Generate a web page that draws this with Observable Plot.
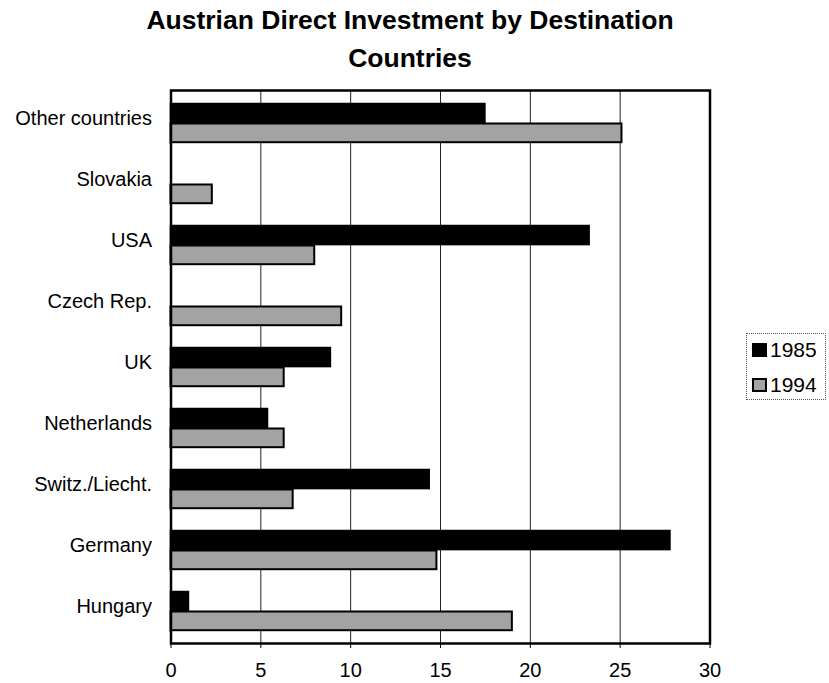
<!DOCTYPE html>
<html>
<head>
<meta charset="utf-8">
<script src="https://cdn.jsdelivr.net/npm/d3@7"></script>
<script src="https://cdn.jsdelivr.net/npm/@observablehq/plot@0.6"></script>
<style>
  body { margin: 0; background: #fff; font-family: "Liberation Sans", Arial, sans-serif; }
  #wrap { position: relative; width: 829px; height: 683px; overflow: hidden; }
  #title { position: absolute; left: 0; top: 1px; width: 820px; text-align: center;
           font-weight: bold; font-size: 26.5px; line-height: 38px; color: #000; }
  #chart { position: absolute; left: 0; top: 80px; }
  #legend { position: absolute; left: 746px; top: 333px; width: 80px; height: 67px;
            border: 1px dotted #555; box-sizing: border-box; font-size: 21px; color: #000; }
  .item { position: absolute; left: 5px; height: 20px; display: flex; align-items: center; }
  .sw { width: 15px; height: 14px; box-sizing: border-box; border: 2px solid #000; margin-right: 3px; }
</style>
</head>
<body>
<div id="wrap">
  <div id="title">Austrian Direct Investment by Destination<br>Countries</div>
  <div id="chart"></div>
  <div id="legend"></div>
</div>
<script>
const countries = ["Other countries", "Slovakia", "USA", "Czech Rep.", "UK", "Netherlands", "Switz./Liecht.", "Germany", "Hungary"];
const values1985 = [17.5, null, 23.3, null, 8.9, 5.4, 14.4, 27.8, 1.0];
const values1994 = [25.1, 2.3, 8.0, 9.5, 6.3, 6.3, 6.8, 14.8, 19.0];
const years = ["1985", "1994"];
const xTicks = [0, 5, 10, 15, 20, 25, 30];
const gridValues = [5, 10, 15, 20, 25];
const colors = {"1985": "#000000", "1994": "#a3a3a3"};

const d1985 = countries.map((c, i) => ({country: c, value: values1985[i]})).filter(d => d.value != null);
const d1994 = countries.map((c, i) => ({country: c, value: values1994[i]})).filter(d => d.value != null);

const chart = Plot.plot({
  width: 829,
  height: 603,
  marginTop: 10,
  marginBottom: 40,
  marginLeft: 170.5,
  marginRight: 119.5,
  style: {fontFamily: "'Liberation Sans', Arial, sans-serif", background: "#fff", color: "#000", fontSize: "20px"},
  x: {domain: [0, 30]},
  y: {domain: countries, padding: 0},
  marks: [
    Plot.ruleX(gridValues, {stroke: "#222", strokeWidth: 1}),
    Plot.barX(d1985, {y: "country", x: "value", fill: colors["1985"], stroke: "#000", strokeWidth: 1.5, insetTop: 11.5, insetBottom: 30.4}),
    Plot.barX(d1994, {y: "country", x: "value", fill: colors["1994"], stroke: "#000", strokeWidth: 2, insetTop: 31.5, insetBottom: 10.8}),
    Plot.frame({stroke: "#000", strokeWidth: 2.5}),
    Plot.axisX({ticks: xTicks, tickSize: 5, tickPadding: 14, fontSize: 20, tickFormat: d => String(d), label: null}),
    Plot.axisY({tickSize: 0, tickPadding: 19, fontSize: 20, dy: -4, label: null})
  ]
});
document.getElementById("chart").appendChild(chart);

const legend = document.getElementById("legend");
years.forEach((y, i) => {
  const it = document.createElement("div");
  it.className = "item";
  it.style.top = (6 + i * 35) + "px";
  const sw = document.createElement("div");
  sw.className = "sw";
  sw.style.background = colors[y];
  it.appendChild(sw);
  const t = document.createElement("span");
  t.textContent = y;
  it.appendChild(t);
  legend.appendChild(it);
});
</script>
</body>
</html>
